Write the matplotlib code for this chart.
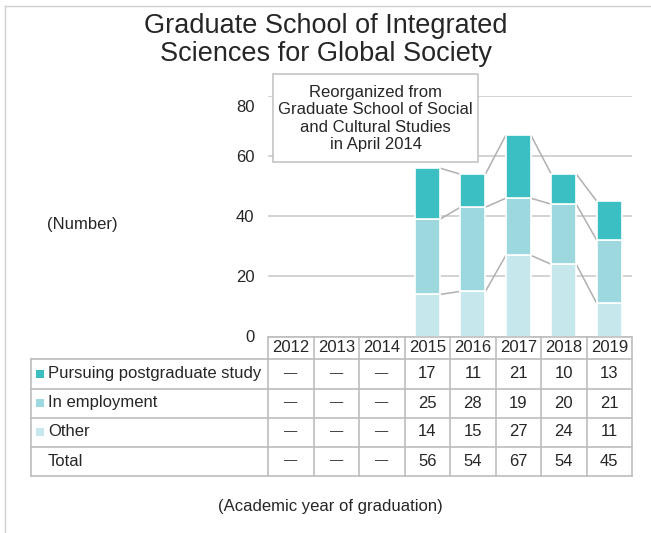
import matplotlib
matplotlib.use("Agg")
import matplotlib.pyplot as plt
from matplotlib.lines import Line2D
from matplotlib.patches import Rectangle
from matplotlib.transforms import blended_transform_factory
import numpy as np

plt.rcParams["font.family"] = ["Liberation Sans", "DejaVu Sans"]

# data (None = no graduates, shown as a dash)
years = ["2012", "2013", "2014", "2015", "2016", "2017", "2018", "2019"]
pursuing = [None, None, None, 17, 11, 21, 10, 13]
employment = [None, None, None, 25, 28, 19, 20, 21]
other = [None, None, None, 14, 15, 27, 24, 11]
totals = [None, None, None, 56, 54, 67, 54, 45]

series_names = ["Pursuing postgraduate study", "In employment", "Other"]
series_colors = ["#3bbfc3", "#9ed8df", "#c6e7eb"]

W, H = 651, 533
TEXT = "#262626"
GRID = "#c8c8c8"
LINE = "#bdbdbd"


def fx(px):
    return px / W


def fy(py):
    return 1 - py / H


fig = plt.figure(figsize=(W / 100, H / 100), dpi=100)
ax = fig.add_axes([fx(268.3), fy(336.5), fx(632) - fx(268.3), fy(96) - fy(336.5)])

# stacked bars: Other at the bottom, then employment, then postgraduate study
idx = [i for i, v in enumerate(totals) if v is not None]
x = np.array(idx, dtype=float)
o = np.array([other[i] for i in idx], dtype=float)
e = np.array([employment[i] for i in idx], dtype=float)
p = np.array([pursuing[i] for i in idx], dtype=float)
bw = 0.55

ax.bar(x, o, bw, color=series_colors[2], edgecolor="white", linewidth=1.2, zorder=3)
ax.bar(x, e, bw, bottom=o, color=series_colors[1], edgecolor="white", linewidth=1.2, zorder=3)
ax.bar(x, p, bw, bottom=o + e, color=series_colors[0], edgecolor="white", linewidth=1.2, zorder=3)

# series lines joining the segment tops of neighbouring bars
for level in (o, o + e, o + e + p):
    for k in range(len(x) - 1):
        ax.plot([x[k] + bw / 2, x[k + 1] - bw / 2], [level[k], level[k + 1]],
                color="#b0b0b0", lw=1.1, zorder=2, solid_capstyle="butt")

ax.set_xlim(-0.5, len(years) - 0.5)
ax.set_ylim(0, 80)
ax.set_yticks([0, 20, 40, 60, 80], ["0", "20", "40", "60", ""])
ax.set_xticks([])
ax.tick_params(axis="y", length=0, pad=10, labelsize=12, labelcolor=TEXT)
ax.yaxis.grid(True, color=GRID, lw=1.1)
ax.set_axisbelow(True)
for s in ax.spines.values():
    s.set_visible(False)
# the "80" label sits a little lower than its gridline in the original
ax.annotate("80", xy=(0, 80), xycoords=("axes fraction", "data"),
            xytext=(-10, -8), textcoords="offset points",
            ha="right", va="center", fontsize=12, color=TEXT)

# note box
fig.add_artist(Rectangle((fx(272.7), fy(162.3)), fx(478.3) - fx(272.7), fy(74.3) - fy(162.3),
                         transform=fig.transFigure, facecolor="white",
                         edgecolor="#c0c0c0", lw=1.1, zorder=5))
fig.text(fx(375.5), fy(118.5),
         "Reorganized from\nGraduate School of Social\nand Cultural Studies\nin April 2014",
         ha="center", va="center", fontsize=12, color=TEXT, linespacing=1.2, zorder=6)

# title and axis captions
fig.text(fx(326), fy(40), "Graduate School of Integrated\nSciences for Global Society",
         ha="center", va="center", fontsize=19.5, color=TEXT, linespacing=1.1)
fig.text(fx(82), fy(224), "(Number)", ha="center", va="center", fontsize=12, color=TEXT)
fig.text(fx(330), fy(507), "(Academic year of graduation)", ha="center", va="center",
         fontsize=12, color=TEXT)

# data table under the chart
tr = blended_transform_factory(ax.transData, fig.transFigure)
head_top, head_bot = 337, 359
row_bots = [388.5, 417.5, 446.5, 475.5]
tab_left = 30.5
ax_right = fx(632)

for i in range(len(years) + 1):
    fig.add_artist(Line2D([i - 0.5, i - 0.5], [fy(head_top), fy(row_bots[-1])],
                          transform=tr, color=LINE, lw=1.2))
fig.add_artist(Line2D([-0.5, len(years) - 0.5], [fy(head_top)] * 2,
                      transform=tr, color=LINE, lw=1.2))
fig.add_artist(Line2D([fx(tab_left)] * 2, [fy(head_bot), fy(row_bots[-1])],
                      transform=fig.transFigure, color=LINE, lw=1.2))
for yb in [head_bot] + row_bots:
    fig.add_artist(Line2D([fx(tab_left), ax_right], [fy(yb)] * 2,
                          transform=fig.transFigure, color=LINE, lw=1.2))

for i, yr in enumerate(years):
    fig.text(i, fy((head_top + head_bot) / 2), yr, transform=tr,
             ha="center", va="center", fontsize=12, color=TEXT)

rows = [pursuing, employment, other, totals]
labels = series_names + ["Total"]
tops = [head_bot] + row_bots[:-1]
for r, (vals, lab) in enumerate(zip(rows, labels)):
    yc = (tops[r] + row_bots[r]) / 2
    if r < 3:
        fig.add_artist(Rectangle((fx(36), fy(yc + 4)), fx(8), fy(yc - 4) - fy(yc + 4),
                                 transform=fig.transFigure, color=series_colors[r], lw=0))
    fig.text(fx(48), fy(yc), lab, ha="left", va="center", fontsize=12, color=TEXT)
    for i, v in enumerate(vals):
        if v is None:
            fig.text(i, fy(yc), "—", transform=tr, ha="center", va="center",
                     fontsize=9.5, color=TEXT)
        else:
            fig.text(i, fy(yc), str(v), transform=tr, ha="center", va="center",
                     fontsize=12, color=TEXT)

# outer frame (top and left edges only are visible)
fig.add_artist(Line2D([fx(5), 1], [fy(6), fy(6)], transform=fig.transFigure, color="#d0d0d0", lw=1))
fig.add_artist(Line2D([fx(5), fx(5)], [fy(6), 0], transform=fig.transFigure, color="#d0d0d0", lw=1))

fig.savefig("out.png", dpi=100)
